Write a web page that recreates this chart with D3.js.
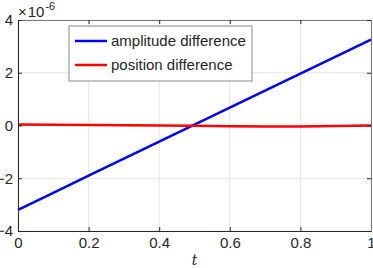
<!DOCTYPE html>
<html>
<head>
<meta charset="utf-8">
<script src="https://cdn.jsdelivr.net/npm/d3@7"></script>
<style>
  body { margin: 0; background: #fff; }
  text { font-family: "Liberation Sans", Arial, sans-serif; }
</style>
</head>
<body>
<div id="chart"></div>
<script>
// values (units of 1e-6)
var tValues = [0, 0.1, 0.2, 0.3, 0.4, 0.5, 0.6, 0.7, 0.8, 0.9, 1];
var amplitudeDiff = [-3.2, -2.55, -1.9, -1.26, -0.61, 0.03, 0.68, 1.32, 1.97, 2.61, 3.26];
var positionDiff = [0.04, 0.03, 0.02, 0.01, 0, -0.01, -0.03, -0.04, -0.04, -0.02, 0];
var xTicks = [0, 0.2, 0.4, 0.6, 0.8, 1];
var yTicks = [-4, -2, 0, 2, 4];
var seriesNames = ["amplitude difference", "position difference"];
var seriesColors = ["#0000ff", "#ff0000"];

var c = {
    margin: {top: 20, right: 2, bottom: 37, left: 18},
    width: 373 - 18 - 2,
    height: 268 - 20 - 37
};

var svg = d3.select("#chart").append("svg")
    .attr("width", 373)
    .attr("height", 268)
    .append("g")
    .attr("transform", "translate(" + c.margin.left + "," + c.margin.top + ")");

var x = d3.scaleLinear().domain([0, 1]).range([0, c.width]);
var y = d3.scaleLinear().domain([-4, 4]).range([c.height, 0]);

// grid
svg.append("g").selectAll("line").data(xTicks).enter().append("line")
    .attr("x1", function(d) { return x(d); })
    .attr("x2", function(d) { return x(d); })
    .attr("y1", 0).attr("y2", c.height)
    .attr("stroke", "#e6e6e6");
svg.append("g").selectAll("line").data(yTicks).enter().append("line")
    .attr("y1", function(d) { return y(d); })
    .attr("y2", function(d) { return y(d); })
    .attr("x1", 0).attr("x2", c.width)
    .attr("stroke", "#e6e6e6");

// lines
var line = d3.line()
    .x(function(d, i) { return x(tValues[i]); })
    .y(function(d) { return y(d); });

[amplitudeDiff, positionDiff].forEach(function(s, i) {
    svg.append("path")
        .attr("d", line(s))
        .attr("fill", "none")
        .attr("stroke", seriesColors[i])
        .attr("stroke-width", 2.5);
});

// axes
var axisColor = "#262626";
var xAxis = svg.append("g")
    .attr("transform", "translate(0," + c.height + ")")
    .call(d3.axisBottom(x).tickValues(xTicks).tickSize(-4).tickPadding(6)
        .tickFormat(function(d) { return d === 0 || d === 1 ? d : d.toFixed(1); }));
var xTop = svg.append("g")
    .call(d3.axisTop(x).tickValues(xTicks).tickSize(-4).tickFormat(""));
var yAxis = svg.append("g")
    .call(d3.axisLeft(y).tickValues(yTicks).tickSize(-4).tickPadding(5));
var yRight = svg.append("g")
    .attr("transform", "translate(" + c.width + ",0)")
    .call(d3.axisRight(y).tickValues(yTicks).tickSize(-4).tickFormat(""));

[xAxis, xTop, yAxis, yRight].forEach(function(a) {
    a.selectAll("path").attr("stroke", axisColor).attr("stroke-width", 1);
    a.selectAll("line").attr("stroke", axisColor);
    a.selectAll("text").attr("fill", axisColor)
        .style("font-family", "Liberation Sans, Arial, sans-serif")
        .style("font-size", "15px");
});
xTop.selectAll("path").attr("stroke", "#7a7a7a");
yRight.selectAll("path").attr("stroke", "#7a7a7a");

// exponent label
var expo = svg.append("text")
    .attr("x", 0).attr("y", -3)
    .attr("fill", axisColor)
    .style("font-size", "15px");
expo.append("tspan").text("\u00d7");
expo.append("tspan").attr("dx", 1).text("10");
expo.append("tspan").attr("dy", -7).attr("dx", 1).style("font-size", "11px").text("-6");

// x label
svg.append("text")
    .attr("x", x(0.5))
    .attr("y", c.height + 34)
    .attr("text-anchor", "middle")
    .attr("fill", axisColor)
    .style("font-family", "DejaVu Serif, serif")
    .style("font-style", "italic")
    .style("font-size", "14px")
    .text("t");

// legend
var legend = svg.append("g").attr("transform", "translate(51,6)");
legend.append("rect")
    .attr("width", 183).attr("height", 55)
    .attr("fill", "#fff")
    .attr("stroke", "#8a8a8a");
seriesNames.forEach(function(name, i) {
    var g = legend.append("g").attr("transform", "translate(0," + (15 + i * 24) + ")");
    g.append("line")
        .attr("x1", 6).attr("x2", 38)
        .attr("stroke", seriesColors[i])
        .attr("stroke-width", 2.5);
    g.append("text")
        .attr("x", 42).attr("dy", "0.35em")
        .attr("fill", axisColor)
        .style("font-size", "15px")
        .text(name);
});
</script>
</body>
</html>
